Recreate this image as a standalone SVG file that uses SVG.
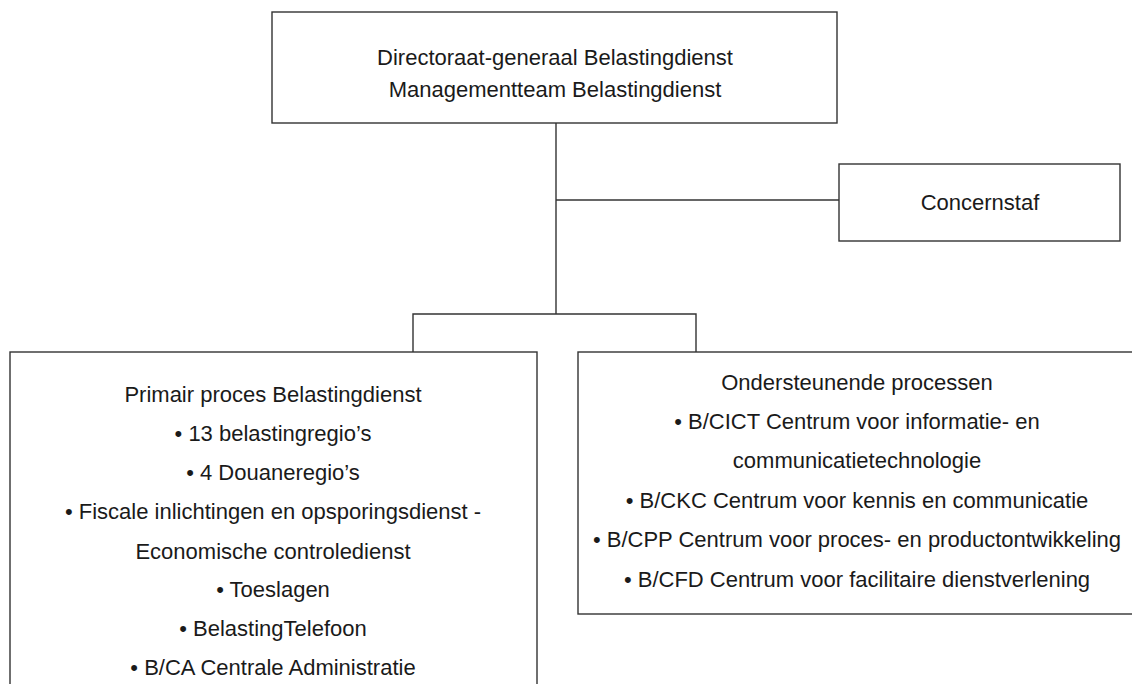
<svg xmlns="http://www.w3.org/2000/svg" width="1132" height="684" viewBox="0 0 1132 684">
<style>
.box{fill:#ffffff;stroke:#333333;stroke-width:1.4}
.con{fill:none;stroke:#333333;stroke-width:1.4}
text{font-family:"Liberation Sans",Arial,sans-serif;font-size:22px;fill:#1a1a1a;text-anchor:middle}
</style>
<rect width="1132" height="684" fill="#ffffff"/>
<g id="connectors">
<path class="con" d="M556 123 V314"/>
<path class="con" d="M556 200 H839"/>
<path class="con" d="M413 352 V314 H696 V352"/>
</g>
<g id="node-dg">
<rect class="box" x="272" y="12" width="565" height="111"/>
<text x="555" y="65">Directoraat-generaal Belastingdienst</text>
<text x="555" y="97">Managementteam Belastingdienst</text>
</g>
<g id="node-concernstaf">
<rect class="box" x="839" y="164" width="281" height="77"/>
<text x="980" y="210">Concernstaf</text>
</g>
<g id="node-primair">
<rect class="box" x="10" y="352" width="527" height="345"/>
<text x="273" y="402">Primair proces Belastingdienst</text>
<text x="273" y="441">• 13 belastingregio’s</text>
<text x="273" y="480">• 4 Douaneregio’s</text>
<text x="273" y="519">• Fiscale inlichtingen en opsporingsdienst -</text>
<text x="273" y="559">Economische controledienst</text>
<text x="273" y="597">• Toeslagen</text>
<text x="273" y="636">• BelastingTelefoon</text>
<text x="273" y="675">• B/CA Centrale Administratie</text>
</g>
<g id="node-ondersteunend">
<rect class="box" x="578" y="352" width="570" height="262"/>
<text x="857" y="390">Ondersteunende processen</text>
<text x="857" y="429">• B/CICT Centrum voor informatie- en</text>
<text x="857" y="468">communicatietechnologie</text>
<text x="857" y="508">• B/CKC Centrum voor kennis en communicatie</text>
<text x="857" y="547">• B/CPP Centrum voor proces- en productontwikkeling</text>
<text x="857" y="587">• B/CFD Centrum voor facilitaire dienstverlening</text>
</g>
</svg>
